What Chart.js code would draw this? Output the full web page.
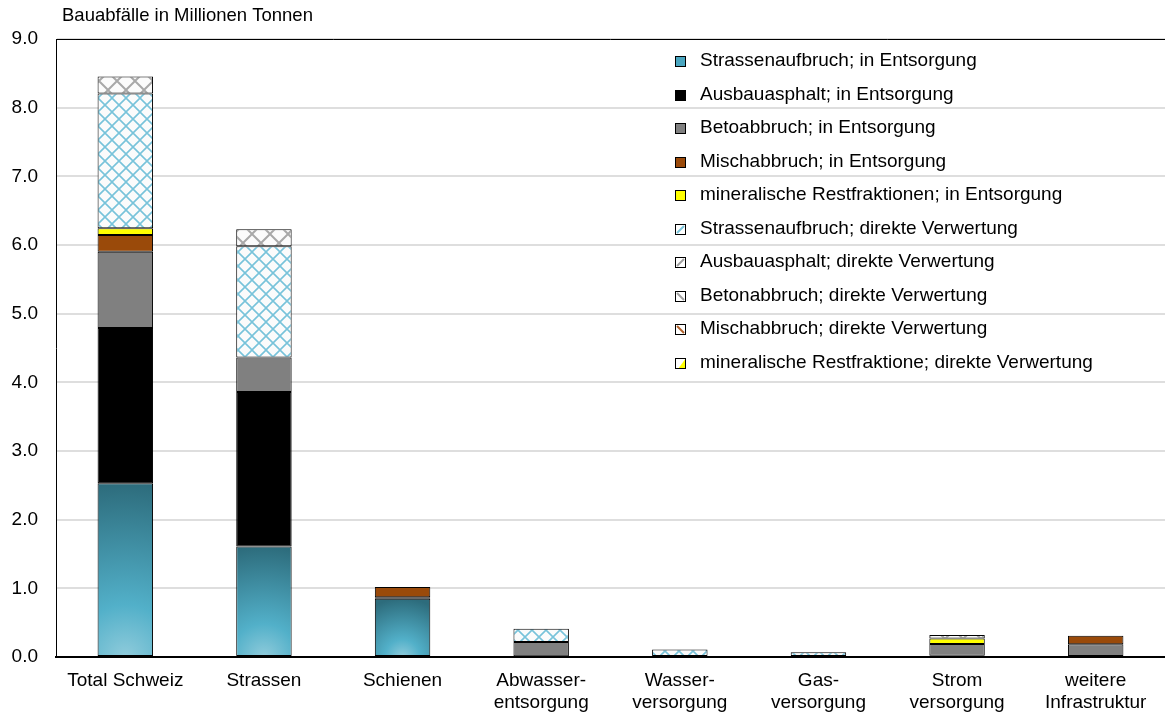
<!DOCTYPE html>
<html>
<head>
<meta charset="utf-8">
<script src="https://cdn.jsdelivr.net/npm/chart.js@4"></script>
<style>
  html, body { margin: 0; padding: 0; background: #fff; }
  #c { display: block; }
</style>
</head>
<body>
<canvas id="c" width="1165" height="715"></canvas>
<script>
// Categories (x axis) – multi-line labels as arrays
const categories = [
  'Total Schweiz',
  'Strassen',
  'Schienen',
  ['Abwasser-', 'entsorgung'],
  ['Wasser-', 'versorgung'],
  ['Gas-', 'versorgung'],
  ['Strom', 'versorgung'],
  ['weitere', 'Infrastruktur']
];

const seriesNames = [
  'Strassenaufbruch; in Entsorgung',
  'Ausbauasphalt; in Entsorgung',
  'Betoabbruch; in Entsorgung',
  'Mischabbruch; in Entsorgung',
  'mineralische Restfraktionen; in Entsorgung',
  'Strassenaufbruch; direkte Verwertung',
  'Ausbauasphalt; direkte Verwertung',
  'Betonabbruch; direkte Verwertung',
  'Mischabbruch; direkte Verwertung',
  'mineralische Restfraktione; direkte Verwertung'
];

// Millionen Tonnen per category
const strassenaufbruchEntsorgung = [2.53, 1.61, 0.85, 0, 0, 0, 0, 0];
const ausbauasphaltEntsorgung    = [2.26, 2.25, 0.02, 0.01, 0, 0, 0.02, 0];
const betonabbruchEntsorgung     = [1.11, 0.50, 0, 0.21, 0, 0, 0.17, 0.185];
const mischabbruchEntsorgung     = [0.245, 0, 0.15, 0, 0, 0, 0, 0.125];
const restfraktionenEntsorgung   = [0.10, 0, 0, 0, 0, 0, 0.08, 0];
const strassenaufbruchDirekt     = [1.96, 1.62, 0, 0.19, 0.11, 0.07, 0, 0];
const ausbauasphaltDirekt        = [0.25, 0.25, 0, 0, 0, 0, 0.05, 0];
const betonabbruchDirekt         = [0, 0, 0, 0, 0, 0, 0, 0];
const mischabbruchDirekt         = [0, 0, 0, 0, 0, 0, 0, 0];
const restfraktionenDirekt       = [0, 0, 0, 0, 0, 0, 0, 0];

const yTicks = [0, 1, 2, 3, 4, 5, 6, 7, 8, 9];

const FONT = "'Liberation Sans', Arial, sans-serif";
const FONT_SIZE = 19;

const ctx0 = document.getElementById('c').getContext('2d');

// ---- cross-hatch fill patterns ----
function crossHatch(size, bg, stroke, width) {
  const c = document.createElement('canvas');
  c.width = size; c.height = size;
  const g = c.getContext('2d');
  g.fillStyle = bg; g.fillRect(0, 0, size, size);
  g.strokeStyle = stroke; g.lineWidth = width;
  g.beginPath();
  g.moveTo(0, 0); g.lineTo(size, size);
  g.moveTo(0, size); g.lineTo(size, 0);
  g.stroke();
  return ctx0.createPattern(c, 'repeat');
}
const blueHatch = crossHatch(14, '#fbfbfb', '#78c3da', 1.6);
const grayHatch = crossHatch(18, '#fbfbfb', '#a8a8a8', 2);

// Radial shaded teal fill, light at the bottom centre of each bar
function tealFill(context) {
  const chart = context.chart;
  const xs = chart.scales.x, ys = chart.scales.y;
  if (!xs || !ys || !chart.chartArea) return '#3f97ad';
  const v = context.raw || 0;
  const cx = xs.getPixelForValue(context.dataIndex);
  const y0 = ys.getPixelForValue(0);
  const y1 = ys.getPixelForValue(v);
  const r = Math.max(y0 - y1, 40);
  const grad = chart.ctx.createRadialGradient(cx, y0, 0, cx, y0, r);
  grad.addColorStop(0, '#8fcbdb');
  grad.addColorStop(0.3, '#52b0c9');
  grad.addColorStop(1, '#2d6c7c');
  return grad;
}

const seriesData = [
  strassenaufbruchEntsorgung, ausbauasphaltEntsorgung, betonabbruchEntsorgung,
  mischabbruchEntsorgung, restfraktionenEntsorgung, strassenaufbruchDirekt,
  ausbauasphaltDirekt, betonabbruchDirekt, mischabbruchDirekt, restfraktionenDirekt
];
const fills = [
  tealFill, '#000000', '#808080', '#9a4a0a', '#ffff00',
  blueHatch, grayHatch, '#ffffff', '#ffffff', '#ffffff'
];

const datasets = seriesData.map((d, i) => ({
  label: seriesNames[i],
  data: d,
  backgroundColor: fills[i],
  borderColor: '#000000',
  borderWidth: (c) => (c.raw ? 1 : 0),
  borderSkipped: false,
  barPercentage: 0.4,
  categoryPercentage: 1.0
}));

// Legend swatch painters
function swatch(g, i, x, y, s) {
  g.save();
  const simple = { 0: '#4aa6c0', 1: '#000000', 2: '#808080', 3: '#9a4a0a', 4: '#ffff00' };
  if (simple[i]) {
    g.fillStyle = simple[i];
    g.fillRect(x, y, s, s);
  } else {
    g.fillStyle = '#ffffff';
    g.fillRect(x, y, s, s);
    g.beginPath(); g.rect(x, y, s, s); g.clip();
    const line = (col, w, dir) => {
      g.strokeStyle = col; g.lineWidth = w; g.beginPath();
      if (dir === '/') { g.moveTo(x + 2, y + s - 2); g.lineTo(x + s - 2, y + 2); }
      else { g.moveTo(x + 2, y + 2); g.lineTo(x + s - 2, y + s - 2); }
      g.stroke();
    };
    if (i === 5) line('#78c3da', 2, '/');
    if (i === 6) line('#a0a0a0', 2, '/');
    if (i === 7) line('#a0a0a0', 2, '\\');
    if (i === 8) line('#b0602a', 2, '\\');
    if (i === 9) {
      g.fillStyle = '#ffff00';
      g.beginPath(); g.moveTo(x + s, y); g.lineTo(x + s, y + s); g.lineTo(x + 3, y + s); g.closePath(); g.fill();
    }
  }
  g.restore();
  g.save();
  g.strokeStyle = '#000';
  g.lineWidth = 1;
  g.strokeRect(x + 0.5, y + 0.5, s - 1, s - 1);
  g.restore();
}

const decorations = {
  id: 'decorations',
  afterDraw(chart) {
    const g = chart.ctx;
    const a = chart.chartArea;
    // frame line along top of plot
    g.save();
    g.strokeStyle = '#000';
    g.lineWidth = 1;
    g.beginPath();
    g.moveTo(a.left, a.top + 0.5);
    g.lineTo(a.right, a.top + 0.5);
    g.stroke();
    // axis caption
    g.fillStyle = '#000';
    g.font = '18.5px ' + FONT;
    g.textBaseline = 'middle';
    g.textAlign = 'left';
    g.fillText('Bauabfälle in Millionen Tonnen', 62, 16);
    // legend
    g.font = FONT_SIZE + 'px ' + FONT;
    chart.data.datasets.forEach((ds, i) => {
      const yc = 61 + i * 33.5;
      swatch(g, i, 675, Math.round(yc - 5), 11);
      g.fillStyle = '#000';
      g.fillText(ds.label, 700, yc);
    });
    g.restore();
  }
};

new Chart(ctx0, {
  type: 'bar',
  data: { labels: categories, datasets },
  options: {
    responsive: false,
    devicePixelRatio: 1,
    animation: false,
    layout: { padding: { top: 39, right: 0, bottom: 0, left: 0 } },
    plugins: { legend: { display: false }, tooltip: { enabled: false } },
    scales: {
      x: {
        stacked: true,
        grid: { display: false, drawTicks: false },
        border: { display: true, color: '#000', width: 2 },
        ticks: {
          color: '#000',
          font: { family: FONT, size: FONT_SIZE, lineHeight: 1.2 },
          padding: 12,
          maxRotation: 0,
          autoSkip: false
        },
        afterFit: (s) => { s.height = 58; }
      },
      y: {
        stacked: true,
        min: 0,
        max: 9,
        afterBuildTicks: (s) => { s.ticks = yTicks.map(v => ({ value: v })); },
        grid: { color: '#dedede', lineWidth: 2, drawTicks: false },
        border: { display: true, color: '#000', width: 1 },
        ticks: {
          color: '#000',
          font: { family: FONT, size: FONT_SIZE },
          padding: 18,
          callback: (v) => Number(v).toFixed(1)
        },
        afterFit: (s) => { s.width = 56; }
      }
    }
  },
  plugins: [decorations]
});
</script>
</body>
</html>
